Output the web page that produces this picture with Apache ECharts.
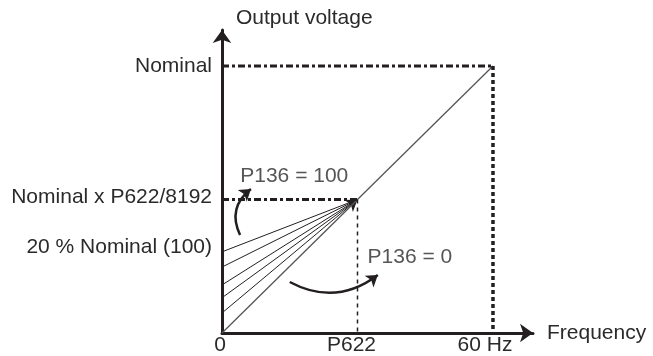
<!DOCTYPE html>
<html>
<head>
<meta charset="utf-8">
<script src="https://cdn.jsdelivr.net/npm/echarts@6/dist/echarts.min.js"></script>
<style>
  html, body { margin: 0; padding: 0; background: #fff; }
  #chart { width: 653px; height: 356px; }
</style>
</head>
<body>
<div id="chart"></div>
<script>
// frequency in Hz, voltage in % of nominal
const nominalFreq = 60
const p622Freq = 30
const p622Volt = 50
// voltage at 0 Hz for the boost lines (P136 steps)
const boostStarts = [30.4, 24.7, 18, 13.2, 7.5]

const xTickValues = [0, 30, 60]
const xTickLabels = ['0', 'P622', '60 Hz']
const yTickValues = [32, 51, 100]
const yTickLabels = ['20 % Nominal (100)', 'Nominal x P622/8192', 'Nominal']

// curved arrows: [start, end] in data coords
const arrowUp = [[4.0, 36.7], [6.4, 53.9]]
const arrowDown = [[15.0, 19.1], [34.5, 21.7]]

const notes = [
  { text: 'P136 = 100', x: 16.0, y: 58.6 },
  { text: 'P136 = 0', x: 41.6, y: 28.5 }
]

const ink = '#231f20'
const font = 'Liberation Sans, Arial, sans-serif'
const textColor = '#2a2a2a'
const fs = 21

const chart = echarts.init(document.getElementById('chart'))

const boostLines = boostStarts.map((v, i) => ({
  coords: [[0, v], [p622Freq, p622Volt]],
  symbol: i === 3 ? ['none', 'arrow'] : ['none', 'none'],
  symbolSize: 11
}))

// labels under the x axis sit a little left of their ticks
const xShift = { '0': 4, 'P622': 12, '60 Hz': 16 }

chart.setOption({
  animation: false,
  grid: { left: 222, right: 120, top: 30, bottom: 23 },
  xAxis: {
    type: 'value',
    min: 0,
    max: 68.86,
    name: 'Frequency',
    nameLocation: 'end',
    nameGap: 14,
    nameTextStyle: { fontFamily: font, fontSize: fs, color: textColor, align: 'left', verticalAlign: 'middle' },
    axisLine: { show: true, symbol: ['none', 'arrow'], symbolSize: [14, 13], lineStyle: { color: ink, width: 3 } },
    axisTick: { show: false },
    splitLine: { show: false },
    axisLabel: {
      customValues: xTickValues,
      formatter: v => {
        const t = xTickLabels[xTickValues.indexOf(v)]
        return '{s' + xShift[t] + '|' + t + '}'
      },
      rich: {
        s4: { padding: [0, 4, 0, 0], fontFamily: font, fontSize: fs, color: textColor },
        s12: { padding: [0, 12, 0, 0], fontFamily: font, fontSize: fs, color: textColor },
        s16: { padding: [0, 16, 0, 0], fontFamily: font, fontSize: fs, color: textColor }
      },
      fontFamily: font, fontSize: fs, color: textColor, margin: 2,
      showMinLabel: true, showMaxLabel: true
    }
  },
  yAxis: {
    type: 'value',
    min: 0,
    max: 113.48,
    name: 'Output voltage',
    nameLocation: 'end',
    nameGap: 12,
    nameTextStyle: { fontFamily: font, fontSize: fs, color: textColor, align: 'left', verticalAlign: 'middle', padding: [0, 0, 0, 14] },
    axisLine: { show: true, symbol: ['none', 'arrow'], symbolSize: [14, 13], lineStyle: { color: ink, width: 3 } },
    axisTick: { show: false },
    splitLine: { show: false },
    axisLabel: {
      customValues: yTickValues,
      formatter: v => yTickLabels[yTickValues.indexOf(v)],
      fontFamily: font, fontSize: fs, color: textColor, margin: 10
    }
  },
  series: [
    // linear V/f
    {
      type: 'line', symbol: 'none', silent: true,
      data: [[0, 0], [nominalFreq, 100]],
      lineStyle: { color: '#555', width: 1.3 }
    },
    // nominal dotted lines
    {
      type: 'line', symbol: 'none', silent: true,
      data: [[0, 100], [nominalFreq, 100]],
      lineStyle: { color: ink, width: 3, type: [7, 3, 3, 3] }
    },
    {
      type: 'line', symbol: 'none', silent: true,
      data: [[nominalFreq, 100], [nominalFreq, 0]],
      lineStyle: { color: ink, width: 3.5, type: [4, 3] }
    },
    {
      type: 'line', symbol: 'none', silent: true,
      data: [[0, p622Volt], [p622Freq, p622Volt]],
      lineStyle: { color: ink, width: 3, type: [7, 3, 3, 3] }
    },
    {
      type: 'line', symbol: 'none', silent: true,
      data: [[p622Freq, p622Volt], [p622Freq, 0]],
      lineStyle: { color: ink, width: 1.5, type: [4, 4] }
    },
    // boost lines
    {
      type: 'lines', coordinateSystem: 'cartesian2d', silent: true,
      data: boostLines,
      lineStyle: { color: ink, width: 1, opacity: 1 }
    },
    // curved arrows
    {
      type: 'lines', coordinateSystem: 'cartesian2d', silent: true,
      symbol: ['none', 'arrow'], symbolSize: 11,
      data: [
        { coords: arrowUp, lineStyle: { curveness: 0.4 } },
        { coords: arrowDown, lineStyle: { curveness: -0.32 } }
      ],
      lineStyle: { color: ink, width: 2.5, opacity: 1 }
    },
    // notes
    {
      type: 'scatter', symbolSize: 0, silent: true,
      data: notes.map(n => ({ value: [n.x, n.y], name: n.text })),
      label: {
        show: true, position: 'inside', formatter: p => p.name,
        fontFamily: font, fontSize: fs, color: textColor
      }
    }
  ]
})
</script>
</body>
</html>
